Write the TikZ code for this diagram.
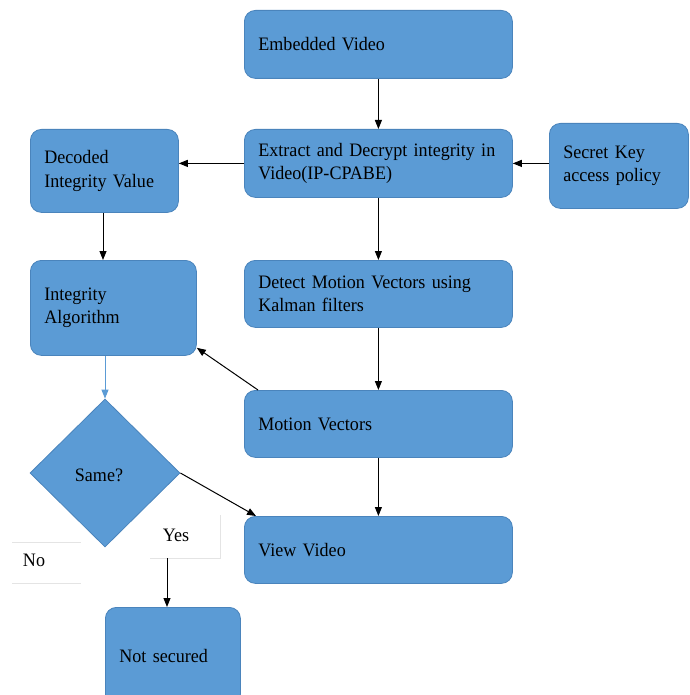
\documentclass[tikz,border=0pt]{standalone}
\usepackage{fontspec}
\setmainfont[FakeStretch=0.95]{Liberation Serif}
\usetikzlibrary{arrows.meta,shapes.geometric,calc}
\definecolor{boxfill}{HTML}{5B9BD5}
\definecolor{boxdraw}{HTML}{4A84BC}
\definecolor{faint}{HTML}{E4E4E4}
\begin{document}
\begin{tikzpicture}[x=1pt,y=-1pt,
  box/.style={draw=boxdraw,fill=boxfill,line width=0.8pt,rounded corners=11pt,
    inner xsep=14pt,inner ysep=0pt,align=left,anchor=north west,
    font=\fontsize{19}{23.5}\selectfont},
  arr/.style={-{Triangle[length=9pt,width=7pt]},line width=1pt,black},
  lbl/.style={font=\fontsize{19}{23.5}\selectfont,inner sep=0pt}]
\clip (0,0) rectangle (689,695);
\fill[white] (0,0) rectangle (689,695);
% boxes
\node[box,text width=240pt,minimum height=68pt] (emb) at (244,10) {Embedded Video};
\node[box,text width=240pt,minimum height=68pt] (ext) at (244,129) {Extract and Decrypt integrity in\\Video(IP-CPABE)};
\node[box,text width=111pt,minimum height=85pt] (sec) at (549,123) {Secret Key\\access policy};
\node[box,text width=120pt,minimum height=83pt] (dec) at (30,129) {Decoded\\Integrity Value};
\node[box,text width=138pt,minimum height=95pt] (alg) at (30,260) {Integrity\\Algorithm};
\node[box,text width=240pt,minimum height=67pt] (det) at (244,260) {Detect Motion Vectors using\\Kalman filters};
\node[box,text width=240pt,minimum height=67pt] (mv) at (244,390) {Motion Vectors};
\node[box,text width=240pt,minimum height=67pt] (view) at (244,516) {View Video};
\node[box,text width=107pt,minimum height=98pt] (ns) at (105,607) {Not secured};
% diamond
\node[diamond,draw=boxdraw,fill=boxfill,line width=0.8pt,minimum width=150pt,minimum height=148pt,inner sep=0pt] (same) at (105,473) {};
\node[lbl] (sametxt) at (99,475) {Same?};
% labels
\node[lbl] (yes) at (176,535) {Yes};
\node[lbl] (no) at (34,560) {No};
\coordinate (yesb) at (167,558);
\draw[faint,line width=0.8pt] (150,558) -- (220,558) -- (220,515);
\draw[faint,line width=0.8pt] (12,542) -- (81,542) (12,583) -- (81,583);
% connectors
\draw[arr] (emb) -- (ext);
\draw[arr] (ext.west) -- (dec.east |- ext.west);
\draw[arr] (sec.west |- ext.east) -- (ext.east);
\draw[arr] (ext) -- (det);
\draw[arr] (dec.south -| 103,0) -- (alg.north -| 103,0);
\draw[arr] (det) -- (mv);
\draw[arr] ($(mv.north west)+(14,0)$) -- ($(alg.south east)+(0,-8)$);
\draw[-{Triangle[length=9pt,width=7pt]},line width=1pt,boxfill] (alg.south -| same.north) -- (same.north);
\draw[arr] (same.east) -- ($(view.north west)+(12,0)$);
\draw[arr] (mv) -- (view);
\draw[arr] (yesb) -- (ns.north -| yesb);
\end{tikzpicture}
\end{document}
